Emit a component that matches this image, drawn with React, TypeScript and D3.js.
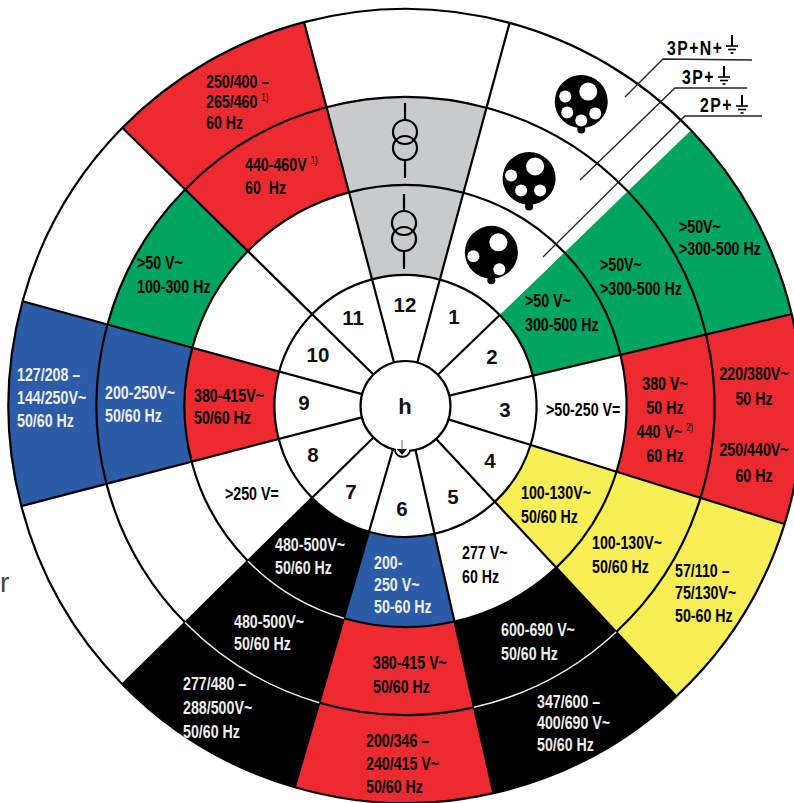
import React from "react";
import * as d3 from "d3";

const W = 794, H = 803;
const CX = 405.5, CY = 406;

// Clock sectors 1..12 and the bearing (degrees, clockwise from north) of the spoke that opens each.
const sectors = [1, 2, 3, 4, 5, 6, 7, 8, 9, 10, 11, 12];
const spokeStart = [15.2, 46, 76.6, 107.3, 137, 167.2, 196.2, 225.5, 255.4, 285.3, 314.5, 345.2];

const RED = "#ed2a2f", GREEN = "#00a561", BLUE = "#2c5ba8", YEL = "#f8ee56", GREY = "#c9cacc", BLK = "#000000", WHT = "#ffffff";
const ring1Fill = [WHT, GREEN, WHT, YEL, WHT, BLUE, BLK, WHT, RED, WHT, WHT, GREY];
const ring2Fill = [WHT, GREEN, RED, YEL, BLK, RED, BLK, WHT, BLUE, GREEN, RED, GREY];
const ring3Fill = [WHT, GREEN, RED, YEL, BLK, RED, BLK, WHT, BLUE, WHT, RED, WHT];

const ring1Text: string[][] = [[], [">50 V~", "300-500 Hz"], [">50-250 V="], ["100-130V~", "50/60 Hz"], ["277 V~", "60 Hz"], ["200-", "250 V~", "50-60 Hz"], ["480-500V~", "50/60 Hz"], [">250 V="], ["380-415V~", "50/60 Hz"], [], [], []];
const ring2Text: string[][] = [[], [">50V~", ">300-500 Hz"], ["380 V~", "50 Hz", "440 V~ ^2)", "60 Hz"], ["100-130V~", "50/60 Hz"], ["600-690 V~", "50/60 Hz"], ["380-415 V~", "50/60 Hz"], ["480-500V~", "50/60 Hz"], [], ["200-250V~", "50/60 Hz"], [">50 V~", "100-300 Hz"], ["440-460V ^1)", "60  Hz"], []];
const ring3Text: string[][] = [[], [">50V~", ">300-500 Hz"], ["220/380V~", "50 Hz", "", "250/440V~", "60 Hz"], ["57/110 –", "75/130V~", "50-60 Hz"], ["347/600 –", "400/690 V~", "50/60 Hz"], ["200/346 –", "240/415 V~", "50/60 Hz"], ["277/480 –", "288/500V~", "50/60 Hz"], [], ["127/208 –", "144/250V~", "50/60 Hz"], [], ["250/400 –", "265/460 ^1)", "60 Hz"], []];

const poleLabels = ["3P+N+", "3P+", "2P+"];
const socketHoles = [5, 4, 3];

// layout: [left edge, block centre, line height, centred?]
type A = [number, number, number, boolean?] | null;
const radii = [45, 131, 221, 309, 397];
const anchors1: A[] = [null, [525, 313, 24], [546, 410, 23], [521, 505, 24], [462, 565, 24], [374, 585, 22], [275, 556, 23], [225, 494, 23], [194, 407, 22], null, null, null];
const anchors2: A[] = [null, [600, 277, 24], [665, 419.5, 24.3, true], [592, 555, 24], [501, 642, 24], [373, 675, 24], [234, 633, 22], null, [105, 404.5, 23], [137, 275, 24], [245, 176.5, 23], null];
const anchors3: A[] = [null, [679, 237.5, 22], [754, 424.5, 25.5, true], [675, 593, 22.5], [537, 723, 21.5], [366, 764, 23], [183, 708, 24], null, [17, 398, 23], null, [206, 102, 20.5], null];
const numberPos: [number, number][] = [[454, 317], [492, 357], [505, 410], [490, 461], [453, 497], [402, 509], [351, 492], [313, 455], [304, 403], [318, 355], [353, 318], [405, 305]];
const spokeEnd = [radii[4], radii[1], radii[4], radii[4], radii[4], radii[4], radii[4], radii[4], radii[4], radii[4], radii[4], radii[4]];

const rad = d3.scaleLinear().domain([0, 360]).range([0, 2 * Math.PI]);
const arc = d3.arc<{ i: number; o: number; a: number; b: number }>()
  .innerRadius(d => d.i).outerRadius(d => d.o)
  .startAngle(d => rad(d.a)).endAngle(d => rad(d.b));

const SANS = "'Liberation Sans', Arial, sans-serif";
const SX = 0.79;

function Label({ lines, at, fill }: { lines: string[]; at: NonNullable<A>; fill: string }) {
  const [x, cy, lh, centred] = at;
  const y0 = cy - ((lines.length - 1) * lh) / 2 + 6.5;
  return (
    <g transform={`translate(${x},0) scale(${SX},1)`}>
      <text textAnchor={centred ? "middle" : "start"} fontFamily={SANS} fontWeight={700} fontSize={18} fill={fill}>
        {lines.map((l, k) => {
          const [t, sup] = l.split("^");
          return (
            <tspan key={k} x={0} y={y0 + k * lh} style={{ whiteSpace: "pre" }}>
              {t}
              {sup && <tspan fontSize={10} dy={-7} fontWeight={400}>{sup}</tspan>}
            </tspan>
          );
        })}
      </text>
    </g>
  );
}

function Socket({ x, y, n }: { x: number; y: number; n: number }) {
  const big: [number, number] = n === 3 ? [7, -10] : n === 4 ? [6, -12] : [7, -10];
  const small: [number, number][] = n === 5
    ? [[-16, -5], [-14, 11], [0, 19], [14, 12]]
    : n === 4 ? [[-18, -3], [-8, 12], [11, 12]]
    : [[-18, 4], [8, 17]];
  return (
    <g transform={`translate(${x},${y})`}>
      <circle r={26.5} fill="#000" />
      <circle cy={28} r={4} fill="#000" />
      <circle cx={big[0]} cy={big[1]} r={9} fill="#fff" />
      {small.map((s, k) => <circle key={k} cx={s[0]} cy={s[1]} r={6} fill="#fff" />)}
    </g>
  );
}

function Transformer({ x, y }: { x: number; y: number }) {
  return (
    <g transform={`translate(${x},${y})`} fill="none" stroke="#000" strokeWidth={2.2}>
      <circle cy={-8} r={12} />
      <circle cy={8} r={12} />
      <line y1={-37} y2={-20} />
      <line y1={20} y2={38} />
    </g>
  );
}

function Earth({ x, y }: { x: number; y: number }) {
  return (
    <g transform={`translate(${x},${y})`} stroke="#000" strokeWidth={1.6}>
      <line y1={-18} y2={-7} strokeWidth={2} />
      <line x1={-6} x2={6} y1={-7} y2={-7} />
      <line x1={-4} x2={4} y1={-3.5} y2={-3.5} />
      <line x1={-1.5} x2={1.5} y1={0} y2={0} />
    </g>
  );
}

export default function App() {
  const fills = [ring1Fill, ring2Fill, ring3Fill];
  const texts = [ring1Text, ring2Text, ring3Text];
  const anchors = [anchors1, anchors2, anchors3];
  const span = (s: number) => {
    const a = spokeStart[s];
    const b0 = spokeStart[(s + 1) % 12];
    return { a, b: b0 < a ? b0 + 360 : b0 };
  };
  const cells = fills.flatMap((ring, r) =>
    sectors.map((_, s) => ({ r, s, fill: ring[s], d: arc({ i: radii[r + 1], o: radii[r + 2], ...span(s) })! }))
  );
  // boundary arcs: black between sectors, white where black meets black
  const edges = [1, 2, 3, 4].flatMap(k =>
    sectors.map((_, s) => {
      const inner = k >= 2 ? fills[k - 2][s] : WHT;
      const outer = k <= 3 ? fills[k - 1][s] : WHT;
      const white = inner === BLK && outer === BLK;
      return { k, s, white, d: arc({ i: radii[k], o: radii[k], ...span(s) })! };
    })
  );
  const socketPolar: [number, number][] = [[30, 351.5], [28.5, 259], [29.2, 176]];
  const polar = (deg: number, r: number): [number, number] => [CX + r * Math.sin(rad(deg)), CY - r * Math.cos(rad(deg))];

  return (
    <svg width={W} height={H} viewBox={`0 0 ${W} ${H}`} style={{ position: "absolute", left: 0, top: 0, background: "#fff" }}>
      <text x={0} y={592} fontFamily={SANS} fontSize={28} fill="#444">r</text>
      <g transform={`translate(${CX},${CY})`}>
        {cells.map(c => <path key={`${c.r}-${c.s}`} d={c.d} fill={c.fill} stroke="none" />)}
        {spokeStart.map((a, i) => {
          const sin = Math.sin(rad(a)), cos = Math.cos(rad(a));
          return <line key={i} x1={radii[0] * sin} y1={-radii[0] * cos} x2={spokeEnd[i] * sin} y2={-spokeEnd[i] * cos} stroke="#000" strokeWidth={2.2} />;
        })}
        {edges.map(e => (
          <path key={`${e.k}-${e.s}`} d={e.d} fill="none" stroke={e.white ? "#eee" : "#000"} strokeWidth={e.white ? 1.5 : 2.2} />
        ))}
        <circle r={radii[0]} fill="#fff" stroke="#000" strokeWidth={2.2} />
      </g>

      {/* key notch on the hub */}
      <path d="M395,451 a8,9 0 0 0 15,0" fill="#fff" stroke="#000" strokeWidth={2} />
      <rect x={396} y={448} width={13} height={4} fill="#fff" />
      <path d="M397,449 h10 l-5,6 z" fill="#000" />
      <line x1={402} x2={402} y1={440} y2={450} stroke="#666" strokeWidth={1} />

      {sectors.map((n, i) => (
        <text key={n} x={numberPos[i][0]} y={numberPos[i][1] + 7} textAnchor="middle" fontFamily={SANS} fontWeight={700} fontSize={20.5} fill="#111">{n}</text>
      ))}
      <text x={405} y={414} textAnchor="middle" fontFamily={SANS} fontWeight={700} fontSize={22} fill="#111">h</text>

      {texts.map((ring, r) => ring.map((lines, s) => {
        const at = anchors[r][s];
        if (!at || !lines.length) return null;
        const light = fills[r][s] === BLK || fills[r][s] === BLUE;
        return <Label key={`${r}-${s}`} lines={lines} at={at} fill={light ? "#eee" : "#000"} />;
      }))}

      {socketHoles.map((n, i) => {
        const p = polar(socketPolar[i][0], socketPolar[i][1]);
        return <Socket key={n} x={p[0]} y={p[1]} n={n} />;
      })}
      <Transformer x={405} y={140} />
      <Transformer x={404} y={231} />

      {/* callouts */}
      <g fill="none" stroke="#222" strokeWidth={1.3}>
        <polyline points="625,97 663,59 752,60" />
        <polyline points="580,180 675,88 747,88" />
        <polyline points="543,257 685,116 762,116" />
      </g>
      {poleLabels.map((t, i) => (
        <g key={t} transform={`translate(${[667, 682, 700][i]},${[55, 84, 112][i]}) scale(${SX},1)`}>
          <text fontFamily={SANS} fontWeight={700} fontSize={20} letterSpacing={1.8} fill="#000">{t}</text>
        </g>
      ))}
      <Earth x={732} y={53} />
      <Earth x={724} y={84} />
      <Earth x={742} y={113} />
    </svg>
  );
}
